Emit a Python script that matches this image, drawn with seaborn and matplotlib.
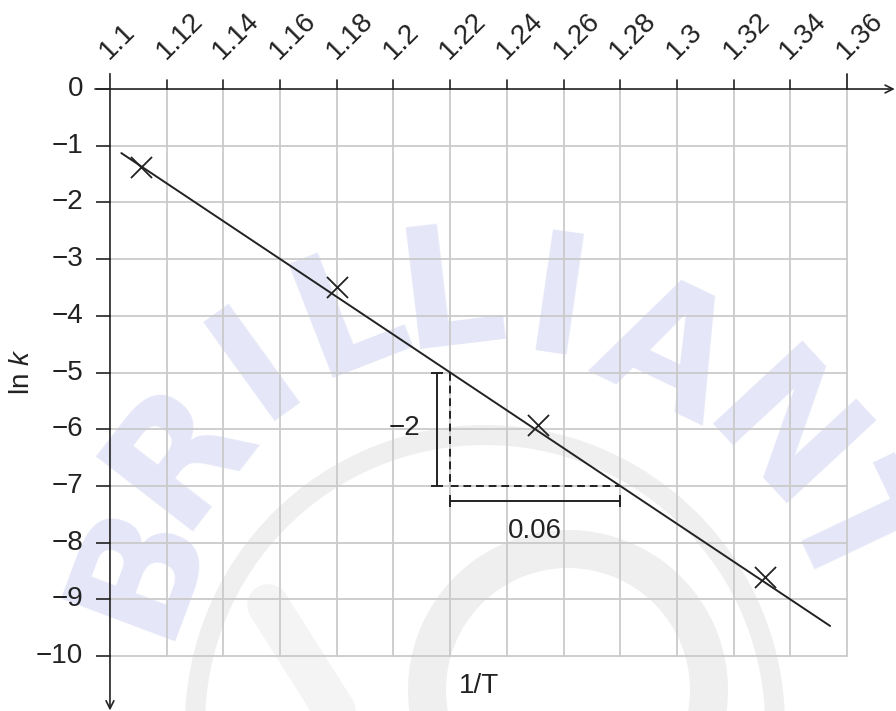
import numpy as np
import pandas as pd
import matplotlib
matplotlib.use("Agg")
import matplotlib.pyplot as plt
from matplotlib.patches import Wedge
import seaborn as sns

# data
x_ticks = [1.1, 1.12, 1.14, 1.16, 1.18, 1.2, 1.22, 1.24, 1.26, 1.28, 1.3, 1.32, 1.34, 1.36]
x_tick_labels = ["1.1", "1.12", "1.14", "1.16", "1.18", "1.2", "1.22", "1.24",
                 "1.26", "1.28", "1.3", "1.32", "1.34", "1.36"]
y_ticks = [0, -1, -2, -3, -4, -5, -6, -7, -8, -9, -10]
y_tick_labels = ["0", "−1", "−2", "−3", "−4", "−5", "−6", "−7", "−8", "−9", "−10"]

inv_T = [1.111, 1.180, 1.251, 1.331]
ln_k = [-1.38, -3.50, -5.92, -8.60]

fit_x = [1.104, 1.354]
fit_y = [-1.13, -9.47]

# slope triangle
tri_x = [1.22, 1.22, 1.28]
tri_y = [-5, -7, -7]
rise_label = "−2"
run_label = "0.06"

sns.set_theme(style="white")
plt.rcParams["font.family"] = ["Liberation Sans", "DejaVu Sans"]
plt.rcParams["mathtext.fontset"] = "custom"
plt.rcParams["mathtext.rm"] = "Liberation Sans"
plt.rcParams["mathtext.it"] = "Liberation Sans:italic"

ink = "#222222"
grid_c = "#cacaca"
fs = 20

fig = plt.figure(figsize=(8.96, 7.11), dpi=100)

# watermark layer, pixel coordinates
bg = fig.add_axes([0, 0, 1, 1])
bg.set_xlim(0, 896)
bg.set_ylim(711, 0)
bg.axis("off")
wm_grey = "#efefef"
bg.add_patch(Wedge((485, 725), 300, 0, 360, width=20, color=wm_grey, lw=0))
bg.add_patch(Wedge((568, 690), 160, 0, 360, width=38, color=wm_grey, lw=0))
bg.plot([268, 335], [605, 711], color="#f4f4f4", lw=30, solid_capstyle="round")
letters = "BRILLIANT"
centres = [(140, 565), (180, 452), (258, 365), (350, 315), (452, 297),
           (557, 308), (665, 355), (778, 442), (848, 535)]
for ch, (cx, cy) in zip(letters, centres):
    ang = np.degrees(np.arctan2(700 - cy, cx - 500))
    bg.text(cx, cy, ch, fontsize=120, fontweight="bold",
            color="#e5e7f8", rotation=ang - 90, ha="center", va="center",
            family="DejaVu Sans", rotation_mode="anchor")

ax = fig.add_axes([95.8 / 896, 0, 799.5 / 896, 639 / 711])
ax.set_xlim(1.095, 1.377)
ax.set_ylim(-10.97, 0.3)
ax.patch.set_alpha(0)
for s in ax.spines.values():
    s.set_visible(False)
ax.set_xticks([])
ax.set_yticks([])

# grid
for x in x_ticks[1:-1]:
    ax.plot([x, x], [-10, 0], color=grid_c, lw=1.3, zorder=1)
ax.plot([1.36, 1.36], [-10, 0.27], color=grid_c, lw=1.3, zorder=1)
for y in y_ticks[1:]:
    ax.plot([1.1, 1.36], [y, y], color=grid_c, lw=1.3, zorder=1)

# ticks
for x in x_ticks[1:-1]:
    ax.plot([x, x], [0, 0.16], color=ink, lw=1.2, zorder=3)
ax.plot([1.36, 1.36], [0, 0.27], color=ink, lw=1.2, zorder=3)
for y in y_ticks:
    ax.plot([1.0947, 1.1], [y, y], color=ink, lw=1.2, zorder=3)

# axes with arrows
ax.annotate("", xy=(1.3768, 0), xytext=(1.0947, 0),
            arrowprops=dict(arrowstyle="->", lw=1.2, color=ink, mutation_scale=14,
                            shrinkA=0, shrinkB=0), zorder=3)
ax.annotate("", xy=(1.1, -10.96), xytext=(1.1, 0.27),
            arrowprops=dict(arrowstyle="->", lw=1.2, color=ink, mutation_scale=14,
                            shrinkA=0, shrinkB=0), zorder=3)

# tick labels
for x, lab in zip(x_ticks, x_tick_labels):
    ax.annotate(lab, xy=(x, 0), xytext=(-6, 34), textcoords="offset pixels",
                rotation=45, rotation_mode="anchor", ha="left", va="center",
                fontsize=fs, color=ink)
for y, lab in zip(y_ticks, y_tick_labels):
    ax.annotate(lab, xy=(1.1, y), xytext=(-27, 0), textcoords="offset pixels",
                ha="right", va="center", fontsize=fs, color=ink)

# data
sns.lineplot(x=fit_x, y=fit_y, ax=ax, color=ink, lw=1.4, zorder=4)
sns.scatterplot(x=inv_T, y=ln_k, ax=ax, marker="x", s=230, color=ink,
                linewidth=1.3, zorder=5)

# slope triangle
ax.plot(tri_x, tri_y, color=ink, lw=1.4, ls=(0, (4, 2.5)), zorder=4)
ax.errorbar([1.2153], [-6], yerr=[[1], [1]], color=ink, lw=1.4, capsize=4,
            capthick=1.4, zorder=4)
ax.errorbar([1.25], [-7.27], xerr=[[0.03], [0.03]], color=ink, lw=1.4, capsize=4,
            capthick=1.4, zorder=4)
ax.text(1.2037, -5.98, rise_label, ha="center", va="center", fontsize=fs, color=ink)
ax.text(1.25, -7.8, run_label, ha="center", va="center", fontsize=fs, color=ink)

# axis titles
fig.text(479 / 896, 1 - 686 / 711, "1/T", ha="center", va="center", fontsize=fs, color=ink)
fig.text(22 / 896, 1 - 372 / 711, r"ln $k$", ha="center", va="center", rotation=90,
         fontsize=fs, color=ink)

fig.savefig("out.png", dpi=100)
